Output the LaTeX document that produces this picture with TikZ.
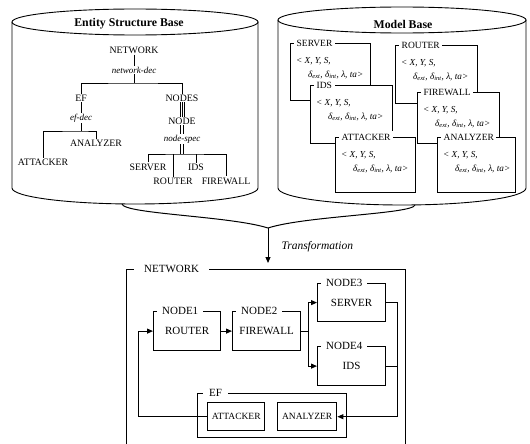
\documentclass[tikz,border=0pt]{standalone}
\usepackage{fontspec}
\setmainfont{Liberation Serif}
\usetikzlibrary{arrows.meta,calc}
\newcommand\dtext{\textless{} X, Y, S,\\\hspace*{12pt}δ\textsubscript{ext}, δ\textsubscript{int}, λ, ta\textgreater}
\newcommand\mbx[6]{%
  \node[mbox, minimum width=#4pt, minimum height=#5pt] (#1) at (#2,#3) {};
  \node[mlab] (#1l) at ([xshift=4pt]#1.north west) {#6};
  \node[mtxt] (#1t) at ([xshift=6pt,yshift=-14pt]#1.north west) {\dtext};
}
\begin{document}
\begin{tikzpicture}[x=1pt,y=-1pt,
  cyl/.style={line width=0.9pt},
  tr/.style={font=\fontsize{9.8}{10}\selectfont, inner sep=1pt},
  tri/.style={font=\fontsize{9}{10}\selectfont\itshape, inner sep=1pt},
  tline/.style={line width=0.8pt},
  mbox/.style={draw, fill=white, line width=0.9pt, inner sep=0pt, anchor=north west},
  mlab/.style={fill=white, inner xsep=2.5pt, inner ysep=3pt, anchor=west, font=\fontsize{9.5}{10}\selectfont},
  mtxt/.style={anchor=north west, align=left, inner sep=0pt, font=\fontsize{9.2}{14}\selectfont\itshape},
  fbox/.style={draw, line width=1.2pt, inner sep=0pt, anchor=north west, font=\fontsize{11}{12}\selectfont},
  flab/.style={fill=white, inner xsep=5pt, inner ysep=1pt, anchor=west, font=\fontsize{11}{12}\selectfont},
  sbox/.style={draw, line width=1.4pt, inner sep=0pt, anchor=north west, font=\fontsize{9.5}{10}\selectfont},
  arr/.style={line width=1pt, -{Triangle[length=6pt,width=5pt]}},
  con/.style={line width=1pt},
]
\useasboundingbox (0,0) rectangle (530,444);

% ---------- left cylinder ----------
\draw[cyl] (135,22) ellipse [x radius=123pt, y radius=13pt];
\draw[cyl] (12,22) -- (12,188) arc[start angle=180, end angle=360, x radius=123pt, y radius=16pt] -- (258,22);
\node[font=\fontsize{11.8}{12}\selectfont\bfseries] (esbt) at (129,24) {Entity Structure Base};

% tree
\node[tr] (tnet) at (134,50) {NETWORK};
\node[tri] (tnetdec) at (134,70) {network-dec};
\coordinate (tb1) at (134,83);
\node[tr] (tef) at (81,98) {EF};
\node[tr] (tnodes) at (182,98) {NODES};
\node[tri] (tefdec) at (81,118) {ef-dec};
\coordinate (tb2) at (81,131);
\node[tr] (tatt) at (43,162) {ATTACKER};
\node[tr] (tana) at (96,143) {ANALYZER};
\node[tr] (tnode) at (182,121) {NODE};
\node[tri] (tspec) at (182,139) {node-spec};
\coordinate (tb3) at (182,154);
\node[tr] (tser) at (148,167) {SERVER};
\node[tr] (trou) at (173,181) {ROUTER};
\node[tr] (tids) at (196,167) {IDS};
\node[tr] (tfw) at (226,181) {FIREWALL};

\draw[tline] (tnet) -- (tnetdec);
\draw[tline] (tnetdec) -- (tb1);
\draw[tline] (tef) |- (tb1) -| (tnodes);
\draw[tline] (tef) -- (tefdec);
\draw[tline] (tefdec) -- (tb2);
\draw[tline] (tatt) |- (tb2) -| (tana);
\foreach \s in {-2,0,2}{\draw[tline] ([xshift=\s pt]tnodes.south) -- ([xshift=\s pt]tnode.north);}
\foreach \s in {-1.2,1.2}{\draw[tline] ([xshift=\s pt]tnode.south) -- ([xshift=\s pt]tspec.north);
  \draw[tline] ([xshift=\s pt]tspec.south) -- ([xshift=\s pt]tb3);}
\draw[tline] (tser) |- (tb3) -| (tfw);
\draw[tline] (trou) -- (trou |- tb3);
\draw[tline] (tids) -- (tids |- tb3);

% ---------- right cylinder ----------
\draw[cyl] (402,20) ellipse [x radius=124pt, y radius=13pt];
\draw[cyl] (278,20) -- (278,188) arc[start angle=180, end angle=360, x radius=124pt, y radius=17pt] -- (526,20);
\node[font=\fontsize{11.8}{12}\selectfont\bfseries] (mbt) at (403,24) {Model Base};

\mbx{mser}{290}{43}{80}{57}{SERVER}
\mbx{mrou}{395}{45}{82}{58}{ROUTER}
\mbx{mids}{310}{85}{82}{58}{IDS}
\mbx{mfw}{417}{92}{82}{51}{FIREWALL}
\mbx{matt}{335}{137}{80}{55}{ATTACKER}
\mbx{mana}{437}{137}{78}{55}{ANALYZER}

% ---------- transformation ----------
\coordinate (bl) at (122,204);
\coordinate (br) at (415,205);
\coordinate (bm) at (268,228);
\coordinate (btip) at (268,263);
\draw[con] (bl) .. controls (124,214) and (230,216) .. (bm);
\draw[con] (br) .. controls (413,214) and (305,216) .. (bm);
\draw[arr] (bm) -- (btip);
\node[font=\fontsize{11.5}{12}\selectfont\itshape, anchor=west] (trans) at (278,247) {Transformation};

% ---------- network ----------
\node[fbox, minimum width=279pt, minimum height=182pt] (net) at (126,269) {};
\node[flab, inner xsep=10pt] (netl) at ([xshift=8pt]net.north west) {NETWORK};

\node[fbox, minimum width=67pt, minimum height=39pt] (n1) at (153,311) {ROUTER};
\node[flab] (n1l) at ([xshift=4pt]n1.north west) {NODE1};
\node[fbox, minimum width=68pt, minimum height=39pt] (n2) at (232,311) {FIREWALL};
\node[flab] (n2l) at ([xshift=4pt]n2.north west) {NODE2};
\node[fbox, minimum width=68pt, minimum height=38pt] (n3) at (317,283) {SERVER};
\node[flab] (n3l) at ([xshift=4pt]n3.north west) {NODE3};
\node[fbox, minimum width=68pt, minimum height=39pt] (n4) at (317,346) {IDS};
\node[flab] (n4l) at ([xshift=4pt]n4.north west) {NODE4};

\node[fbox, minimum width=149pt, minimum height=44pt] (ef) at (197,393) {};
\node[flab, inner xsep=6pt] (efl) at ([xshift=6pt]ef.north west) {EF};
\node[sbox, minimum width=57pt, minimum height=28pt] (at) at (207,402) {ATTACKER};
\node[sbox, minimum width=59pt, minimum height=28pt] (an) at (277,402) {ANALYZER};

\draw[arr] (n1.east) -- (n2.west);
\coordinate (sp) at ($(n2.east)+(7,0)$);
\draw[con] (n2.east) -- (sp);
\draw[arr] (sp) |- (n3.west);
\draw[arr] (sp) |- (n4.west);
\draw[arr] (n3.east) -- ++(11,0) |- (an.east);
\draw[con] (n4.east) -- ++(11,0);
\draw[arr] (at.west) -- ++(-69,0) |- (n1.west);
\end{tikzpicture}
\end{document}
